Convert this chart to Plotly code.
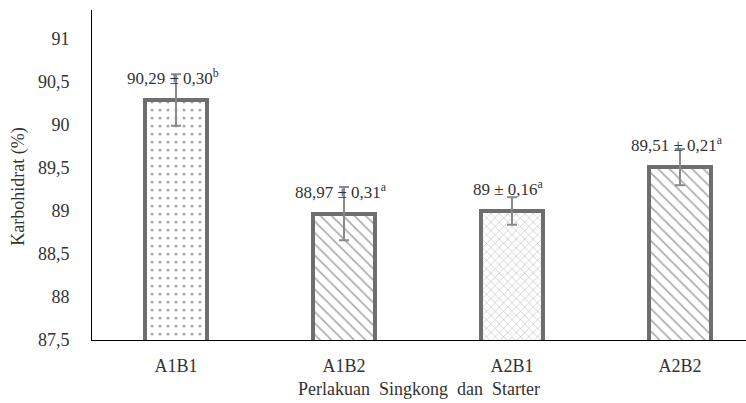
import plotly.graph_objects as go

# Carbohydrate content per cassava/starter treatment
categories = ["A1B1", "A1B2", "A2B1", "A2B2"]
means = [90.29, 88.97, 89.00, 89.51]
sds = [0.30, 0.31, 0.16, 0.21]
mean_labels = ["90,29", "88,97", "89", "89,51"]
sd_labels = ["0,30", "0,31", "0,16", "0,21"]
letters = ["b", "a", "a", "a"]
ytick_vals = [87.5, 88, 88.5, 89, 89.5, 90, 90.5, 91]
ytick_text = ["87,5", "88", "88,5", "89", "89,5", "90", "90,5", "91"]

FONT = "Liberation Serif"
TEXT = "#333333"
EDGE = "#6e6e6e"

patterns = [
    dict(shape=".", size=8, solidity=0.12, fgcolor="#555555", bgcolor="white"),
    dict(shape="\\", size=8, solidity=0.2, fgcolor="#555555", bgcolor="white"),
    dict(shape="x", size=6, solidity=0.15, fgcolor="#555555", bgcolor="white"),
    dict(shape="\\", size=8, solidity=0.2, fgcolor="#555555", bgcolor="white"),
]

fig = go.Figure()
for i, cat in enumerate(categories):
    fig.add_trace(go.Bar(
        x=[cat], y=[means[i]], base=0,
        width=0.37,
        marker=dict(color="white", pattern=patterns[i],
                    line=dict(color=EDGE, width=4)),
        error_y=dict(type="data", array=[sds[i]], visible=True,
                     color="#8a8a8a", thickness=2, width=5),
        showlegend=False, hoverinfo="skip",
    ))

for i, cat in enumerate(categories):
    fig.add_annotation(
        x=cat, y=means[i], xref="x", yref="y",
        text=f"{mean_labels[i]} ± {sd_labels[i]}<sup>{letters[i]}</sup>",
        showarrow=False, yanchor="bottom", yshift=10, xshift=-3,
        font=dict(family=FONT, size=17, color=TEXT),
    )

# axis titles
fig.add_annotation(
    text="Karbohidrat (%)", xref="paper", yref="paper",
    x=-0.113, y=0.465, textangle=-90, showarrow=False,
    xanchor="center", yanchor="middle",
    font=dict(family=FONT, size=18, color=TEXT),
)
fig.add_annotation(
    text="Perlakuan  Singkong  dan  Starter", xref="paper", yref="paper",
    x=0.5, y=-0.78 * 63 / 330, showarrow=False,
    xanchor="center", yanchor="middle",
    font=dict(family=FONT, size=18, color=TEXT),
)

fig.update_layout(
    width=746, height=403,
    margin=dict(l=92, r=0, t=10, b=63),
    paper_bgcolor="white", plot_bgcolor="white",
    bargap=0,
    font=dict(family=FONT, size=17, color=TEXT),
)
fig.update_xaxes(
    range=[-0.5, 3.393], showline=True, linecolor="black", linewidth=1,
    showgrid=False, ticks="", ticklabelstandoff=9,
    tickfont=dict(family=FONT, size=18, color=TEXT),
)
fig.update_yaxes(
    range=[87.5, 91.337], tickvals=ytick_vals, ticktext=ytick_text,
    showline=True, linecolor="black", linewidth=1,
    showgrid=False, zeroline=False, ticks="", ticklabelstandoff=18,
    tickfont=dict(family=FONT, size=18, color=TEXT),
)

fig.write_html("out.html")
